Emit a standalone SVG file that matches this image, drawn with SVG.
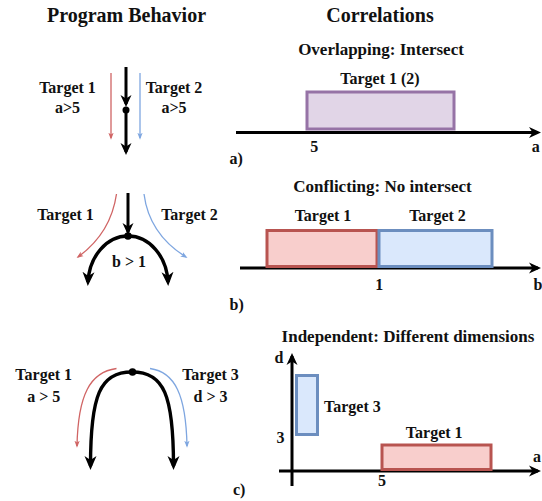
<svg xmlns="http://www.w3.org/2000/svg" width="542" height="501" viewBox="0 0 542 501" font-family="'Liberation Serif', 'DejaVu Serif', serif" font-weight="bold">
<style>
text{fill:#111;}
.t20{font-size:20px;text-anchor:middle;}
.t17{font-size:17px;text-anchor:middle;}
.t16{font-size:16px;text-anchor:middle;}
.lbl{font-size:16px;text-anchor:start;}
.blk{fill:none;stroke:#000;stroke-width:3;marker-end:url(#ab);}
.blk2{fill:none;stroke:#000;stroke-width:3.4;marker-end:url(#ab2);}
.red{fill:none;stroke:#d06464;stroke-width:1.3;marker-end:url(#ar);}
.blu{fill:none;stroke:#7ea6e0;stroke-width:1.3;marker-end:url(#abl);}
.rr{fill:#f8cecc;stroke:#b85450;stroke-width:3;}
.br{fill:#dae8fc;stroke:#6c8ebf;stroke-width:3;}
.pr{fill:#e1d5e7;stroke:#9673a6;stroke-width:3;}
</style>
<defs>
<marker id="ab" viewBox="0 0 12 12" refX="9" refY="6" markerWidth="12" markerHeight="12" markerUnits="userSpaceOnUse" orient="auto"><path d="M0,0.5 L12,6 L0,11.5 L3.5,6 z" fill="#000"/></marker>
<marker id="ab2" viewBox="0 0 14 13" refX="10" refY="6.5" markerWidth="14" markerHeight="13" markerUnits="userSpaceOnUse" orient="auto"><path d="M0,0.5 L14,6.5 L0,12.5 L4,6.5 z" fill="#000"/></marker>
<marker id="ar" viewBox="0 0 8 8" refX="6" refY="4" markerWidth="7" markerHeight="7" markerUnits="userSpaceOnUse" orient="auto"><path d="M0,1 L8,4 L0,7 L2,4 z" fill="#d06464"/></marker>
<marker id="abl" viewBox="0 0 8 8" refX="6" refY="4" markerWidth="7" markerHeight="7" markerUnits="userSpaceOnUse" orient="auto"><path d="M0,1 L8,4 L0,7 L2,4 z" fill="#7ea6e0"/></marker>
</defs>

<g id="titles">
<text class="t20" x="126.5" y="22">Program Behavior</text>
<text class="t20" x="380" y="22">Correlations</text>
</g>

<g id="connectors">
<path class="blk" d="M126,67 L126,104"/>
<path class="blk" d="M126,110 L126,152"/>
<path class="red" d="M111,73 L111,138"/>
<path class="blu" d="M140,73 L140,138"/>
<path class="blk" d="M128,193 L128,232"/>
<path class="blk2" d="M128,236 A40,49 0 0 0 88,282"/>
<path class="blk2" d="M128,236 A40,49 0 0 1 168,282"/>
<path class="red" d="M116.5,194 C112,225 96,244 78,257"/>
<path class="blu" d="M144,194 C148,225 165,244 186,257"/>
<path class="blk2" d="M132,372 C100,372 90.5,395 90.5,466"/>
<path class="blk2" d="M132,372 C164,372 173.5,395 173.5,466"/>
<path class="red" d="M116.5,368.5 C90,372 78,395 77,446"/>
<path class="blu" d="M150,368.5 C175,372 186,395 187,446"/>
<path class="blk" d="M236,132.5 L538,132.5"/>
<path class="blk" d="M240,268 L538,268"/>
<path class="blk" d="M279,471 L538,471"/>
<path class="blk" d="M292,486 L292,356"/>
</g>

<g id="pb-a">
<circle cx="126" cy="110" r="3.5" fill="#000"/>
<text class="t16" x="67.5" y="93">Target 1</text>
<text class="t16" x="67.5" y="112.5">a&gt;5</text>
<text class="t16" x="174" y="93">Target 2</text>
<text class="t16" x="174" y="112.5">a&gt;5</text>
</g>

<g id="pb-b">
<circle cx="128" cy="236" r="3.8" fill="#000"/>
<text class="t16" x="65.5" y="219.5">Target 1</text>
<text class="t16" x="189.5" y="219.5">Target 2</text>
<text class="t16" x="129" y="267">b &gt; 1</text>
</g>

<g id="pb-c">
<circle cx="132.5" cy="372" r="3.8" fill="#000"/>
<text class="t16" x="43.7" y="379.5">Target 1</text>
<text class="t16" x="43.7" y="402">a &gt; 5</text>
<text class="t16" x="210.5" y="379.5">Target 3</text>
<text class="t16" x="210.5" y="402">d &gt; 3</text>
</g>

<g id="corr-a">
<text class="t17" x="381" y="55">Overlapping: Intersect</text>
<text class="t16" x="380" y="84">Target 1 (2)</text>
<rect class="pr" x="307" y="92" width="147" height="37"/>
<text class="t16" x="314.3" y="151.5">5</text>
<text class="t16" x="535.8" y="151.5">a</text>
<text class="lbl" x="229.5" y="163.5">a)</text>
</g>

<g id="corr-b">
<text class="t17" x="382.5" y="192">Conflicting: No intersect</text>
<text class="t16" x="323" y="220.5">Target 1</text>
<text class="t16" x="437.5" y="220.5">Target 2</text>
<rect class="rr" x="267" y="230.5" width="110" height="36"/>
<rect class="br" x="379" y="230.5" width="113" height="36"/>
<text class="t16" x="379.3" y="289.5">1</text>
<text class="t16" x="538" y="289.5">b</text>
<text class="lbl" x="229.5" y="310">b)</text>
</g>

<g id="corr-c">
<text class="t17" x="408" y="342">Independent: Different dimensions</text>
<rect class="br" x="296.5" y="375.5" width="21" height="59"/>
<rect class="rr" x="382" y="445" width="109" height="24.5"/>
<text class="t16" x="279" y="362.5">d</text>
<text class="t16" x="280.5" y="442.5">3</text>
<text class="lbl" x="324" y="411.5">Target 3</text>
<text class="t16" x="434.2" y="437.5">Target 1</text>
<text class="t16" x="382" y="485.5">5</text>
<text class="t16" x="537" y="461.5">a</text>
<text class="lbl" x="233" y="495">c)</text>
</g>
</svg>
